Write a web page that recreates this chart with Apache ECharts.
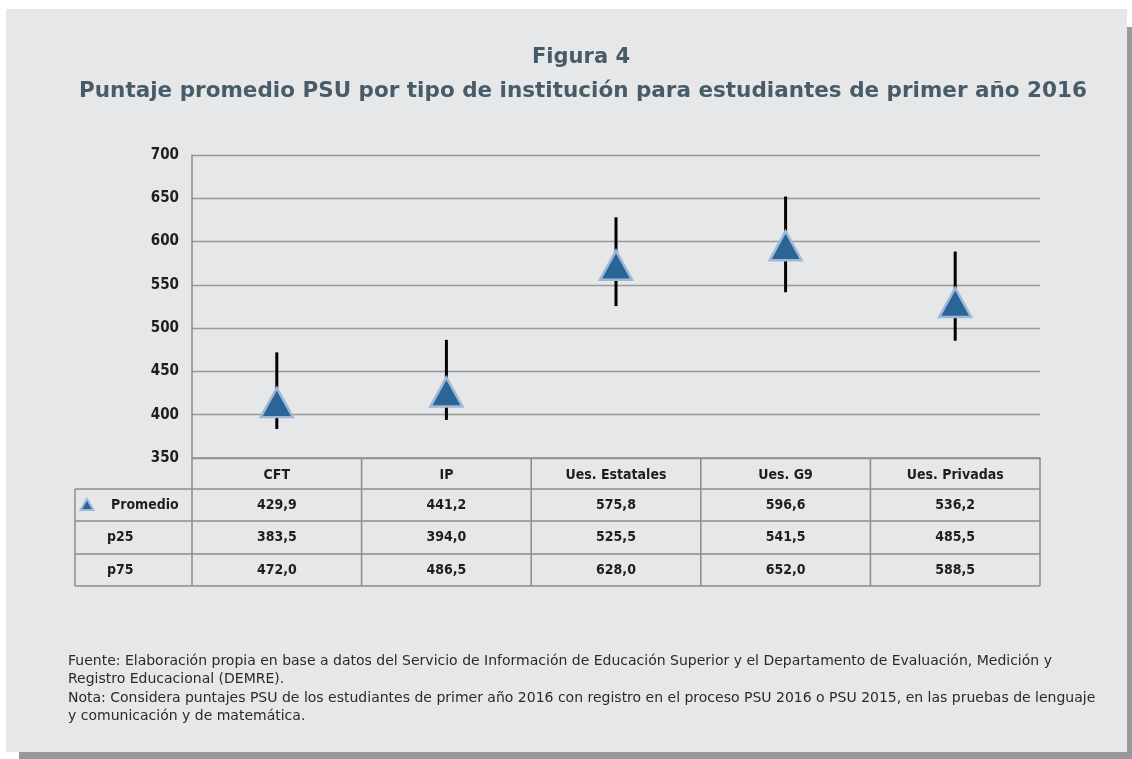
<!DOCTYPE html>
<html>
<head>
<meta charset="utf-8">
<script src="https://cdn.jsdelivr.net/npm/echarts@6/dist/echarts.min.js"></script>
<style>
html,body{margin:0;padding:0;background:#ffffff;}
#chart{width:1132px;height:759px;}
</style>
</head>
<body>
<div id="chart"></div>
<script>
// ---- data ----
const categories = ['CFT', 'IP', 'Ues. Estatales', 'Ues. G9', 'Ues. Privadas'];
const promedio = [429.9, 441.2, 575.8, 596.6, 536.2];
const p25 = [383.5, 394.0, 525.5, 541.5, 485.5];
const p75 = [472.0, 486.5, 628.0, 652.0, 588.5];
const rowLabels = ['Promedio', 'p25', 'p75'];
const yMin = 350, yMax = 700, yStep = 50;
// the markers in the original sit on a hidden secondary scale
const y2Min = 371, y2Max = 693;
const titleText = 'Figura 4';
const subtitleText = 'Puntaje promedio PSU por tipo de institución para estudiantes de primer año 2016';
const footerLines = [
  'Fuente: Elaboración propia en base a datos del Servicio de Información de Educación Superior y el Departamento de Evaluación, Medición y',
  'Registro Educacional (DEMRE).',
  'Nota: Considera puntajes PSU de los estudiantes de primer año 2016 con registro en el proceso PSU 2016 o PSU 2015, en las pruebas de lenguaje',
  'y comunicación y de matemática.'
];

// ---- style ----
const condFont = "'Liberation Sans Narrow','DejaVu Sans Condensed','Roboto Condensed','Arial Narrow',sans-serif";
const lineGray = '#8c8c8c';
const triFill = '#2b6597';
const triBorder = '#9fb8d8';
const titleColor = '#485c68';

const chart = echarts.init(document.getElementById('chart'), null, {renderer: 'canvas'});

const fmt = v => v.toFixed(1).replace('.', ',');

chart.setOption({
  animation: false,
  backgroundColor: 'transparent',
  grid: {left: 192, right: 92, top: 155, bottom: 301},
  xAxis: {
    type: 'category',
    data: categories,
    boundaryGap: true,
    axisLine: {show: true, lineStyle: {color: lineGray, width: 1.5}},
    axisTick: {show: false},
    axisLabel: {interval: 0, margin: 10, fontSize: 14, fontWeight: 'bold', color: '#1e1e1e', fontFamily: condFont},
    splitLine: {show: false}
  },
  yAxis: [{
    type: 'value',
    min: yMin, max: yMax, interval: yStep,
    axisLine: {show: true, lineStyle: {color: lineGray, width: 1.5}},
    axisTick: {show: false},
    axisLabel: {margin: 13, fontSize: 15, fontWeight: 'bold', color: '#1e1e1e', fontFamily: condFont},
    splitLine: {show: true, lineStyle: {color: '#999999', width: 1.4}}
  }, {
    type: 'value',
    show: false,
    min: y2Min, max: y2Max,
    splitLine: {show: false}
  }],
  series: [
    {
      type: 'custom',
      name: 'rango',
      yAxisIndex: 0,
      data: categories.map((c, i) => [i, p25[i], p75[i]]),
      encode: {x: 0, y: [1, 2]},
      z: 2,
      renderItem: function (params, api) {
        const a = api.coord([api.value(0), api.value(1)]);
        const b = api.coord([api.value(0), api.value(2)]);
        return {
          type: 'line',
          shape: {x1: a[0], y1: a[1], x2: b[0], y2: b[1]},
          style: {stroke: '#000000', lineWidth: 3}
        };
      }
    },
    {
      type: 'scatter',
      name: 'Promedio',
      yAxisIndex: 1,
      data: promedio,
      symbol: 'triangle',
      symbolSize: [32, 29],
      itemStyle: {color: triFill, borderColor: triBorder, borderWidth: 2.5, opacity: 1},
      z: 5
    }
  ]
});

// ---- table & decorations built from the axis scales ----
function buildGraphics() {
  const els = [];
  // panel with shadow
  els.push({type: 'rect', z: -20, shape: {x: 19, y: 27, width: 1120, height: 740}, style: {fill: '#999999'}, silent: true});
  els.push({type: 'rect', z: -19, shape: {x: 6, y: 9, width: 1121, height: 743}, style: {fill: '#e6e7e9'}, silent: true});

  // titles
  els.push({type: 'text', x: 581, y: 58, style: {text: titleText, textAlign: 'center', textVerticalAlign: 'middle', fontFamily: 'DejaVu Sans', fontWeight: 'bold', fontSize: 21, fill: titleColor}});
  els.push({type: 'text', x: 583, y: 91, style: {text: subtitleText, textAlign: 'center', textVerticalAlign: 'middle', fontFamily: 'DejaVu Sans', fontWeight: 'bold', fontSize: 21.5, fill: titleColor}});

  // table geometry from scales
  const c0 = chart.convertToPixel({xAxisIndex: 0}, 0);
  const c1 = chart.convertToPixel({xAxisIndex: 0}, 1);
  const band = c1 - c0;
  const yTop = chart.convertToPixel({yAxisIndex: 0}, yMin);
  const tableLeft = 75;
  const rows = [yTop, yTop + 31, yTop + 63, yTop + 96, yTop + 128];
  const leftB = c0 - band / 2;
  const rightB = c0 + band * (categories.length - 0.5);
  const ls = {stroke: lineGray, lineWidth: 1.5};
  for (let r = 1; r < rows.length; r++) {
    els.push({type: 'line', shape: {x1: tableLeft, y1: rows[r], x2: rightB, y2: rows[r]}, style: ls});
  }
  for (let k = 0; k <= categories.length; k++) {
    const x = leftB + k * band;
    els.push({type: 'line', shape: {x1: x, y1: yTop, x2: x, y2: rows[4]}, style: ls});
  }
  els.push({type: 'line', shape: {x1: tableLeft, y1: rows[1], x2: tableLeft, y2: rows[4]}, style: ls});

  const seriesRows = [promedio, p25, p75];
  for (let r = 0; r < 3; r++) {
    const cy = (rows[r + 1] + rows[r + 2]) / 2;
    els.push({type: 'text', x: r === 0 ? 111 : 107, y: cy, style: {text: rowLabels[r], textAlign: 'left', textVerticalAlign: 'middle', fontFamily: condFont, fontWeight: 'bold', fontSize: 14, fill: '#1e1e1e'}});
    for (let i = 0; i < categories.length; i++) {
      const cx = chart.convertToPixel({xAxisIndex: 0}, i);
      els.push({type: 'text', x: cx, y: cy, style: {text: fmt(seriesRows[r][i]), textAlign: 'center', textVerticalAlign: 'middle', fontFamily: condFont, fontWeight: 'bold', fontSize: 14, fill: '#1e1e1e'}});
    }
  }
  // legend marker
  const ly = (rows[1] + rows[2]) / 2;
  els.push({type: 'polygon', shape: {points: [[87, ly - 6], [80.5, ly + 5], [93.5, ly + 5]]}, style: {fill: triFill, stroke: triBorder, lineWidth: 2}});

  // footer
  const fy = [661, 679, 698, 716];
  footerLines.forEach((t, k) => {
    els.push({type: 'text', x: 68, y: fy[k], style: {text: t, textAlign: 'left', textVerticalAlign: 'middle', fontFamily: 'DejaVu Sans', fontSize: 14, fill: '#2a2a2a'}});
  });
  return els;
}

chart.setOption({graphic: {elements: buildGraphics()}});
</script>
</body>
</html>
